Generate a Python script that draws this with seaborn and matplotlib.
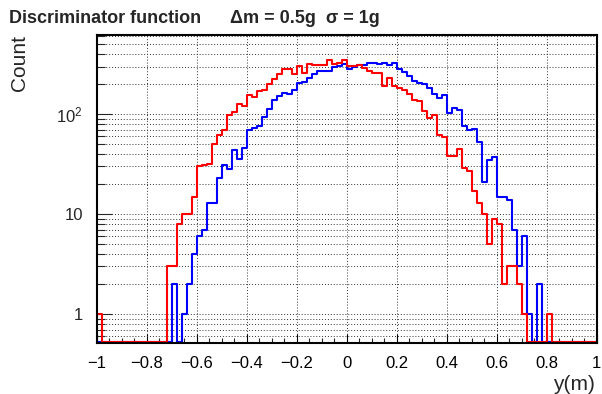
import numpy as np
import pandas as pd
import matplotlib
matplotlib.use("Agg")
import matplotlib.pyplot as plt
import seaborn as sns
from matplotlib.ticker import FixedLocator, FixedFormatter, LogLocator, MultipleLocator, NullFormatter

# ---------------- data ----------------
x_min, x_max, n_bins = -1.0, 1.0, 100

red_counts = [1, 0, 0, 0, 0, 0, 0, 0, 0, 0,
              0, 0, 0, 0, 3, 3, 8, 10, 10, 15,
              30, 31, 32, 50, 62, 70, 98, 106, 127, 120,
              157, 149, 170, 175, 200, 224, 251, 282, 282, 253,
              307, 261, 319, 311, 311, 311, 349, 319, 329, 352,
              305, 305, 310, 290, 270, 260, 258, 193, 230, 190,
              182, 175, 160, 139, 135, 107, 91, 98, 62, 59,
              38, 38, 45, 29, 27, 17, 13, 10, 5, 9,
              8, 2, 3, 3, 2, 1, 0, 0, 0, 0,
              1, 0, 0, 0, 0, 0, 0, 0, 0, 0]

blue_counts = [0, 0, 0, 0, 0, 0, 0, 0, 0, 0,
               0, 0, 0, 0, 0, 2, 0, 1, 2, 4,
               6, 7, 13, 13, 23, 31, 28, 44, 36, 46,
               69, 73, 77, 93, 112, 139, 153, 162, 158, 175,
               207, 212, 229, 250, 270, 273, 273, 295, 304, 320,
               285, 300, 311, 311, 329, 324, 319, 329, 311, 324,
               285, 264, 242, 216, 205, 200, 182, 160, 145, 157,
               104, 115, 111, 77, 70, 71, 53, 21, 35, 37,
               15, 15, 14, 7, 3, 6, 1, 0, 2, 0,
               0, 0, 0, 0, 0, 0, 0, 0, 0, 0]

x_ticks = [-1.0, -0.8, -0.6, -0.4, -0.2, 0.0, 0.2, 0.4, 0.6, 0.8, 1.0]
x_tick_labels = ["\u22121", "\u22120.8", "\u22120.6", "\u22120.4", "\u22120.2",
                 "0", "0.2", "0.4", "0.6", "0.8", "1"]
y_ticks = [1, 10, 100]
y_tick_labels = ["1", "10", r"$\mathregular{10^{2}}$"]

title_text = "Discriminator function"
param_text = "\u0394m = 0.5g  \u03c3 = 1g"
x_label = "y(m)"
y_label = "Count"

# ---------------- style ----------------
sns.set_style("white")
plt.rcParams["font.family"] = ["Liberation Sans", "DejaVu Sans"]
plt.rcParams["mathtext.fontset"] = "custom"
plt.rcParams["mathtext.rm"] = "Liberation Sans"
plt.rcParams["mathtext.it"] = "Liberation Sans:italic"
plt.rcParams["mathtext.bf"] = "Liberation Sans:bold"
plt.rcParams["axes.unicode_minus"] = True

W, H = 602, 394
fig = plt.figure(figsize=(W / 100, H / 100), dpi=100)
left, right, top, bottom = 96.7, 596.7, 35.0, 343.3
ax = fig.add_axes([left / W, 1 - bottom / H, (right - left) / W, (bottom - top) / H])

edges = np.linspace(x_min, x_max, n_bins + 1)
centers = 0.5 * (edges[:-1] + edges[1:])
y_low, y_high = 0.51, 621.0
floor = 0.53  # empty bins drawn on the frame bottom, as ROOT does

blue_df = pd.DataFrame({"y": centers, "w": np.maximum(np.array(blue_counts, float), floor)})
red_df = pd.DataFrame({"y": centers, "w": np.maximum(np.array(red_counts, float), floor)})

sns.histplot(data=blue_df, x="y", weights="w", bins=edges.tolist(), element="step", fill=False,
             color="#0000ff", linewidth=1.5, ax=ax)
sns.histplot(data=red_df, x="y", weights="w", bins=edges.tolist(), element="step", fill=False,
             color="#ff0000", linewidth=1.5, ax=ax)

ax.set_yscale("log")
ax.set_xlim(x_min, x_max)
ax.set_ylim(y_low, y_high)

ax.xaxis.set_major_locator(FixedLocator(x_ticks))
ax.xaxis.set_major_formatter(FixedFormatter(x_tick_labels))
ax.xaxis.set_minor_locator(MultipleLocator(0.05))
ax.yaxis.set_major_locator(FixedLocator(y_ticks))
ax.yaxis.set_major_formatter(FixedFormatter(y_tick_labels))
ax.yaxis.set_minor_locator(LogLocator(base=10, subs=np.arange(2, 10), numticks=20))
ax.yaxis.set_minor_formatter(NullFormatter())

ax.set_axisbelow(True)
grid_kw = dict(color="#333333", linestyle=(0, (1, 2)), linewidth=0.7)
ax.grid(True, which="major", axis="x", **grid_kw)
ax.grid(True, which="both", axis="y", **grid_kw)

ax.tick_params(axis="x", which="major", direction="in", length=6.6, width=0.8,
               bottom=True, top=False, labelsize=12, pad=9, colors="black")
ax.tick_params(axis="x", which="minor", direction="in", length=3.3, width=0.8,
               bottom=True, top=False)
ax.tick_params(axis="y", which="major", direction="in", length=10.8, width=0.8,
               left=True, right=False, labelsize=12, pad=10)
ax.tick_params(axis="y", which="minor", direction="in", length=5.4, width=0.8,
               left=True, right=False)

for s in ax.spines.values():
    s.set_visible(True)
    s.set_color("black")
    s.set_linewidth(1.5)

ax.set_xlabel("")
ax.set_ylabel("")

fig.text(9 / W, 1 - 22.7 / H, title_text, fontsize=13, fontweight="bold",
         ha="left", va="baseline")
fig.text(230 / W, 1 - 22.7 / H, param_text, fontsize=13, fontweight="bold",
         ha="left", va="baseline")
fig.text(20 / W, 1 - 35 / H, y_label, fontsize=15, rotation=90, ha="center", va="top")
fig.text(595 / W, 1 - 390 / H, x_label, fontsize=15, ha="right", va="baseline")

fig.savefig("out.png", dpi=100, facecolor="white")
